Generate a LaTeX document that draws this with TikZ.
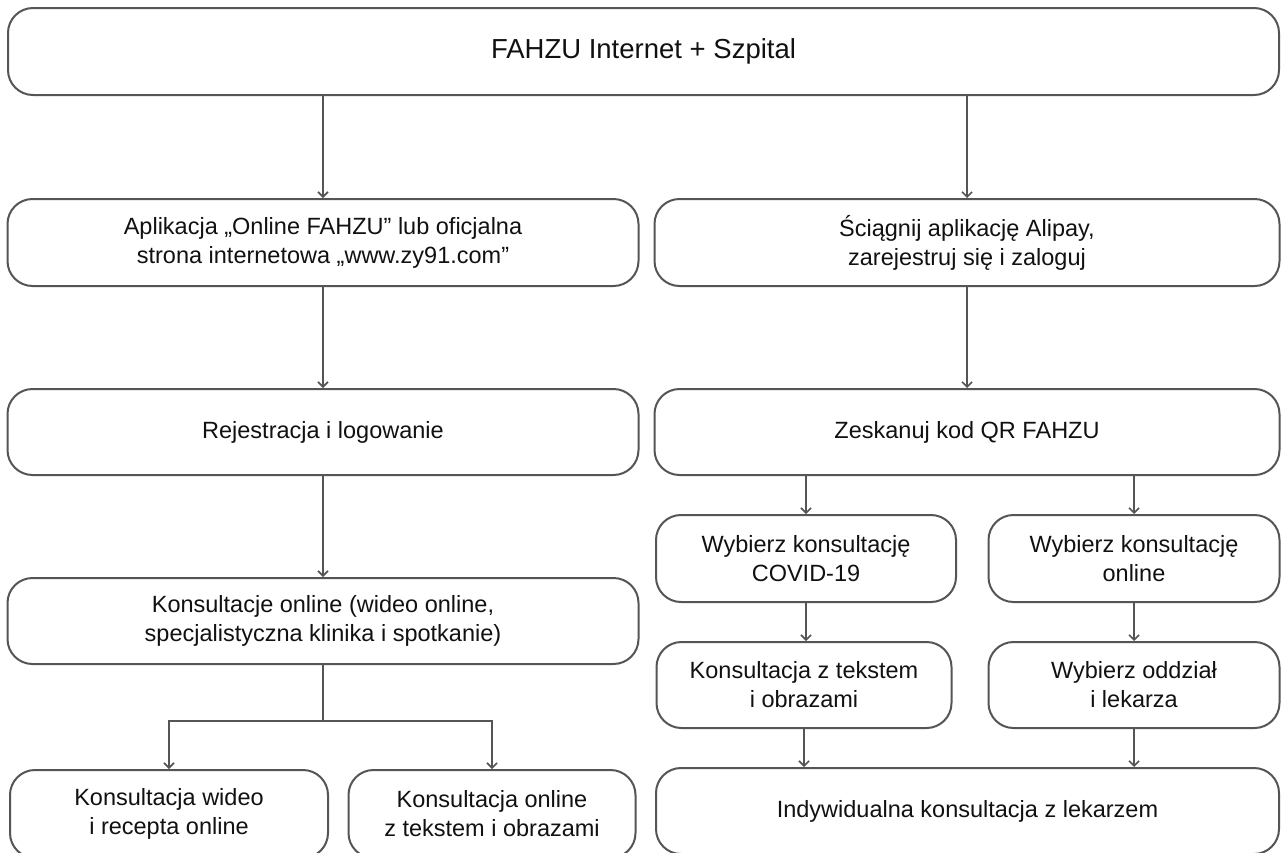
\documentclass[tikz,border=0pt]{standalone}
\usepackage{fontspec}
\setmainfont{Liberation Sans}
\usetikzlibrary{arrows.meta}
\definecolor{linegray}{HTML}{555555}
\definecolor{txt}{HTML}{111111}
\tikzset{
  box/.style={draw=linegray, line width=2pt, rounded corners=25pt, align=center,
    text=txt, font=\fontsize{23.5}{29}\selectfont, inner sep=0pt},
  arr/.style={draw=linegray, line width=2pt, -{Straight Barb[length=5pt,width=10pt,line width=1.6pt]}},
  con/.style={draw=linegray, line width=2pt}
}
\begin{document}
\begin{tikzpicture}[x=1pt,y=-1pt]
\useasboundingbox (0,0) rectangle (1286,852);
\clip (0,0) rectangle (1286,852);
\fill[white] (0,0) rectangle (1286,852);
% boxes
\node[box, minimum width=1271pt, minimum height=87pt, font=\fontsize{27.5}{32}\selectfont] (top) at (643.5,51.5) {FAHZU Internet + Szpital};
\node[box, minimum width=631pt, minimum height=87pt] (app) at (323,242.5) {Aplikacja „Online FAHZU” lub oficjalna\\strona internetowa „www.zy91.com”};
\node[box, minimum width=625pt, minimum height=87pt] (ali) at (967,242.5) {Ściągnij aplikację Alipay,\\zarejestruj się i zaloguj};
\node[box, minimum width=631pt, minimum height=86pt] (rej) at (323,432) {Rejestracja i logowanie};
\node[box, minimum width=625pt, minimum height=86pt] (zes) at (967,432) {Zeskanuj kod QR FAHZU};
\node[box, minimum width=631pt, minimum height=86pt] (kon) at (323,621) {Konsultacje online (wideo online,\\specjalistyczna klinika i spotkanie)};
\node[box, minimum width=318pt, minimum height=88pt] (kw) at (169,814) {Konsultacja wideo\\i recepta online};
\node[box, minimum width=287pt, minimum height=88pt] (ko) at (492,814) {Konsultacja online\\z tekstem i obrazami};
\node[box, minimum width=300pt, minimum height=87pt] (wc) at (806,558.5) {Wybierz konsultację\\COVID-19};
\node[box, minimum width=291pt, minimum height=87pt] (wo) at (1134,558.5) {Wybierz konsultację\\online};
\node[box, minimum width=295pt, minimum height=86pt] (kt) at (804,685) {Konsultacja z tekstem\\i obrazami};
\node[box, minimum width=291pt, minimum height=86pt] (wl) at (1134,685) {Wybierz oddział\\i lekarza};
\node[box, minimum width=623pt, minimum height=86pt] (ind) at (967.5,811) {Indywidualna konsultacja z lekarzem};
% connectors
\draw[arr] (top.south -| app.north) -- (app.north);
\draw[arr] (top.south -| ali.north) -- (ali.north);
\draw[arr] (app.south) -- (rej.north);
\draw[arr] (ali.south) -- (zes.north);
\draw[arr] (rej.south) -- (kon.north);
\coordinate (split) at (323,721);
\draw[con] (kon.south) -- (split);
\draw[arr] (split) -| (kw.north);
\draw[arr] (split) -| (ko.north);
\draw[arr] (zes.south -| wc.north) -- (wc.north);
\draw[arr] (zes.south -| wo.north) -- (wo.north);
\draw[arr] (wc.south) -- (wc.south |- kt.north);
\draw[arr] (wo.south) -- (wl.north);
\draw[arr] (kt.south) -- (kt.south |- ind.north);
\draw[arr] (wl.south) -- (wl.south |- ind.north);
\end{tikzpicture}
\end{document}
